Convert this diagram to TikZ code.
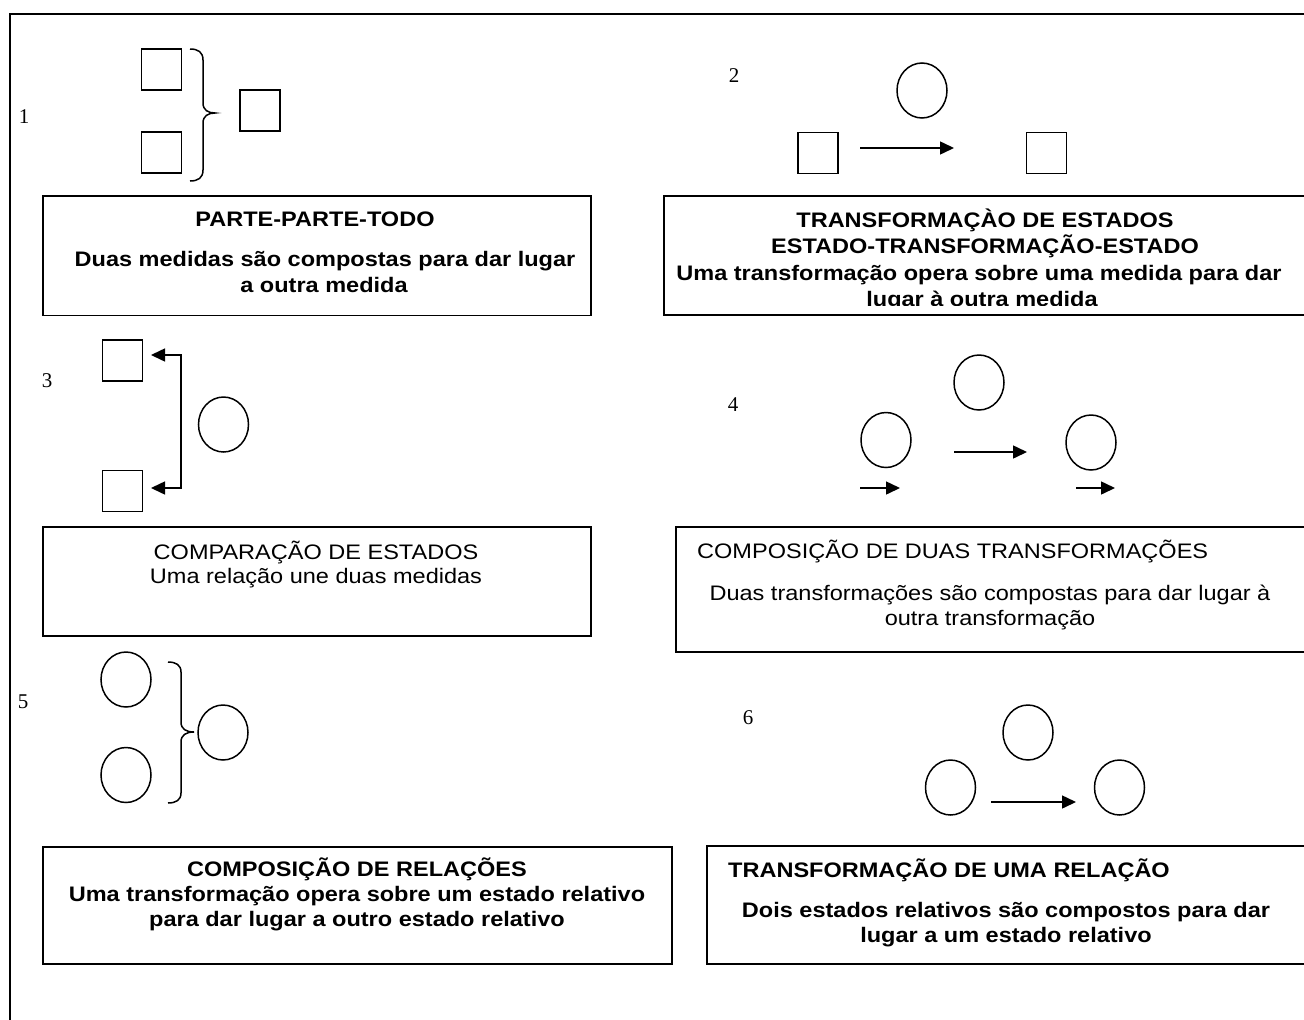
\documentclass[tikz,border=0pt]{standalone}
\usepackage{fontspec}
\usetikzlibrary{shapes.geometric,arrows.meta}
\newfontfamily\sansf[FakeStretch=1.12]{Liberation Sans}
\newfontfamily\serf{Liberation Serif}
\tikzset{
  sq/.style={draw, line width=1.5pt, minimum width=40pt, minimum height=41pt, inner sep=0pt, outer sep=0pt},
  ov/.style={draw, ellipse, line width=1.5pt, minimum width=50pt, minimum height=55pt, inner sep=0pt},
  numlbl/.style={font=\serf\fontsize{21}{24}\selectfont, inner sep=0pt},
  txtbox/.style={draw, line width=1.6pt, inner sep=0pt, outer sep=0pt},
  bt/.style={font=\sansf\bfseries\fontsize{21}{26}\selectfont, inner sep=0pt, anchor=base},
  rt/.style={font=\sansf\fontsize{21}{26}\selectfont, inner sep=0pt, anchor=base},
  ln/.style={line width=1.5pt},
  arr/.style={line width=1.5pt, -{Triangle[length=14pt,width=13pt]}},
  arr2/.style={line width=1.5pt, {Triangle[length=14pt,width=13pt]}-{Triangle[length=14pt,width=13pt]}, line join=miter},
}
\begin{document}
\begin{tikzpicture}[x=1pt,y=-1pt]
\useasboundingbox (0,0) rectangle (1304,1020);
\clip (0,0) rectangle (1304,1020);
\fill[white] (0,0) rectangle (1304,1020);
% outer frame
\draw[line width=1.8pt] (10,1030) -- (10,14) -- (1310,14);

% ---------- section 1 ----------
\node[numlbl] (n1) at (24,117) {1};
\node[sq] (s1a) at (161.5,69.5) {};
\node[sq] (s1b) at (161.5,152.5) {};
\node[sq] (s1c) at (260,110.5) {};
\draw[ln] (190,49) .. controls (198,49) and (203,52) .. (203,60) -- (203,103)
  .. controls (203,110) and (208,113) .. (215,113)
  .. controls (208,113) and (203,116) .. (203,123) -- (203,170)
  .. controls (203,178) and (198,181) .. (190,181);
\node[txtbox, minimum width=548pt, minimum height=119.5pt] (b1) at (317,255.75) {};
\node[bt] (t1a) at (315,226) {PARTE-PARTE-TODO};
\node[bt] (t1b) at (325,266) {Duas medidas são compostas para dar lugar};
\node[bt] (t1c) at (324,292) {a outra medida};

% ---------- section 2 ----------
\node[numlbl] (n2) at (734,76) {2};
\node[ov] (o2) at (922,90.5) {};
\node[sq] (s2a) at (818,153) {};
\node[sq] (s2b) at (1046.5,153) {};
\coordinate (a2s) at (860,148);
\coordinate (a2e) at (954,148);
\draw[arr] (a2s) -- (a2e);
\node[txtbox, minimum width=656pt, minimum height=119pt] (b2) at (992,255.5) {};
\node[bt] (t2a) at (985,227) {TRANSFORMAÇÀO DE ESTADOS};
\node[bt] (t2b) at (985,253.5) {ESTADO-TRANSFORMAÇÃO-ESTADO};
\node[bt] (t2c) at (979,280) {Uma transformação opera sobre uma medida para dar};
\begin{scope}
  \clip (664,200) rectangle (1304,305);
  \node[bt] (t2d) at (982,306.5) {lugar à outra medida};
\end{scope}

% ---------- section 3 ----------
\node[numlbl] (n3) at (47,381) {3};
\node[sq] (s3a) at (122.5,360.5) {};
\node[sq] (s3b) at (122.5,491) {};
\node[ov] (o3) at (223.5,424.5) {};
\coordinate (c3t) at (181,355);
\coordinate (c3b) at (181,488);
\coordinate (c3tt) at (151,355);
\coordinate (c3bt) at (151,488);
\draw[arr2] (c3tt) -- (c3t) -- (c3b) -- (c3bt);
\node[txtbox, minimum width=548pt, minimum height=109pt] (b3) at (317,581.5) {};
\node[rt] (t3a) at (316,559) {COMPARAÇÃO DE ESTADOS};
\node[rt] (t3b) at (316,583) {Uma relação une duas medidas};

% ---------- section 4 ----------
\node[numlbl] (n4) at (733,405) {4};
\node[ov] (o4t) at (979,382.5) {};
\node[ov] (o4l) at (886,440) {};
\node[ov] (o4r) at (1091,442.5) {};
\coordinate (a4s) at (954,452);
\coordinate (a4e) at (1027,452);
\draw[arr] (a4s) -- (a4e);
\coordinate (a4ls) at (860,488);
\coordinate (a4le) at (900,488);
\draw[arr] (a4ls) -- (a4le);
\coordinate (a4rs) at (1076,488);
\coordinate (a4re) at (1115,488);
\draw[arr] (a4rs) -- (a4re);
\node[txtbox, minimum width=644pt, minimum height=125pt] (b4) at (998,589.5) {};
\node[rt, anchor=base west] (t4a) at (697,558) {COMPOSIÇÃO DE DUAS TRANSFORMAÇÕES};
\node[rt] (t4b) at (990,600) {Duas transformações são compostas para dar lugar à};
\node[rt] (t4c) at (990,625) {outra transformação};

% ---------- section 5 ----------
\node[numlbl] (n5) at (23,702) {5};
\node[ov] (o5t) at (126,679.5) {};
\node[ov] (o5b) at (126,775) {};
\node[ov] (o5r) at (223,732.5) {};
\draw[ln] (168,662) .. controls (176,662) and (181,665) .. (181,672) -- (181,722)
  .. controls (181,729) and (186,732) .. (194,732)
  .. controls (186,732) and (181,735) .. (181,742) -- (181,793)
  .. controls (181,800) and (176,803) .. (168,803);
\node[txtbox, minimum width=629pt, minimum height=117pt] (b5) at (357.5,905.5) {};
\node[bt] (t5a) at (357,876) {COMPOSIÇÃO DE RELAÇÕES};
\node[bt] (t5b) at (357,901) {Uma transformação opera sobre um estado relativo};
\node[bt] (t5c) at (357,926) {para dar lugar a outro estado relativo};

% ---------- section 6 ----------
\node[numlbl] (n6) at (748,718) {6};
\node[ov] (o6t) at (1028,732.5) {};
\node[ov] (o6l) at (950.5,787.5) {};
\node[ov] (o6r) at (1119.5,787.5) {};
\coordinate (a6s) at (991,802);
\coordinate (a6e) at (1076,802);
\draw[arr] (a6s) -- (a6e);
\node[txtbox, minimum width=613pt, minimum height=118pt] (b6) at (1013.5,905) {};
\node[bt, anchor=base west] (t6a) at (728,877) {TRANSFORMAÇÃO DE UMA RELAÇÃO};
\node[bt] (t6b) at (1006,917) {Dois estados relativos são compostos para dar};
\node[bt] (t6c) at (1006,942) {lugar a um estado relativo};
\end{tikzpicture}
\end{document}
